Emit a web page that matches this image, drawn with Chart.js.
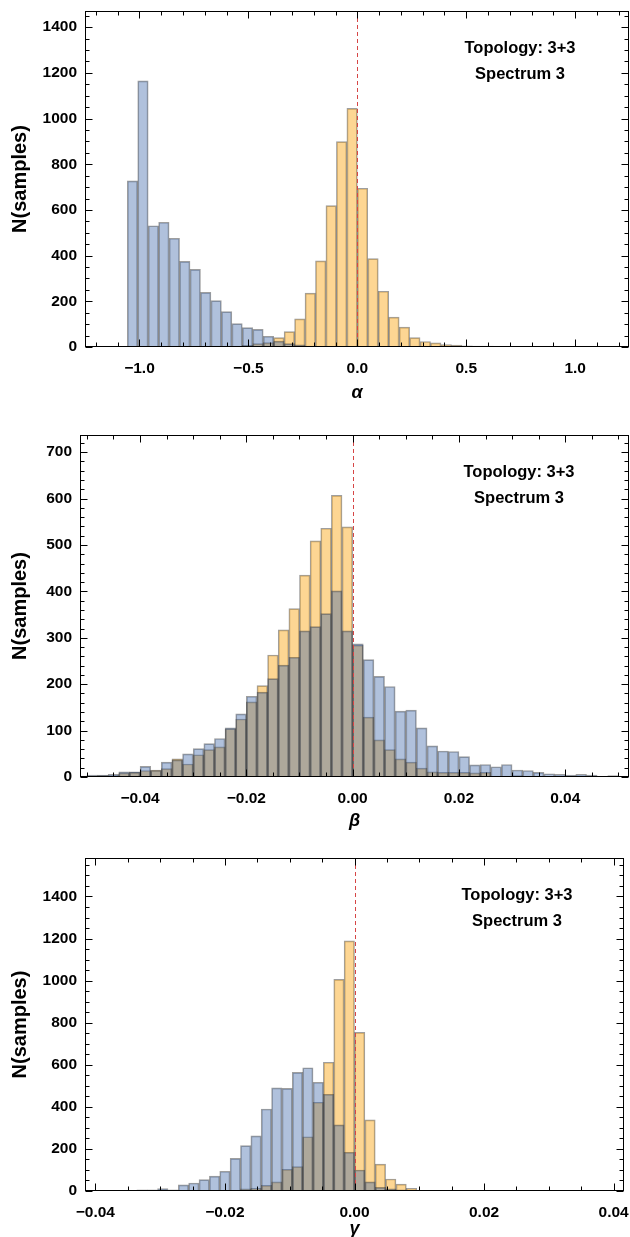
<!DOCTYPE html>
<html><head><meta charset="utf-8">
<script src="https://cdn.jsdelivr.net/npm/chart.js@4.4.1/dist/chart.umd.min.js"></script>
<style>
html,body{margin:0;padding:0;background:#fff;}
body{width:630px;height:1237px;position:relative;overflow:hidden;}
.p{position:absolute;left:0;width:630px;}
</style></head><body>
<div class="p" style="top:0;height:415px"><canvas id="c1"></canvas></div>
<div class="p" style="top:415px;height:420px"><canvas id="c2"></canvas></div>
<div class="p" style="top:835px;height:402px"><canvas id="c3"></canvas></div>
<script>
// ---------- DATA ----------
// alpha histogram (bin width and first bin edge)
const alphaBinStart = -1.104;
const alphaBinWidth = 0.048;
const alphaBlue   = [3,727,1165,531,546,476,375,340,239,203,155,102,85,77,47,26,15,10,4,2,1,0,0, 0,0,0,0,0,0,0,0,0,0,0,0,0,0,0,0];
const alphaOrange = [0,0,0,0,0,0,0,0,0,0,0,3,7,15,19,41,67,123,236,377,619,899,1045, 695,387,244,131,87,41,24,18,11,8,5,4,4,3,0,3];
const alphaXTicks = [-1.0,-0.5,0.0,0.5,1.0];
const alphaXLabels = ["\u22121.0","\u22120.5","0.0","0.5","1.0"];
const alphaYTicks = [0,200,400,600,800,1000,1200,1400];

// beta histogram
const betaBinStart = -0.052;
const betaBinWidth = 0.002;
const betaBlue   = [2,4,4,6,11,11,23,14,32,37,50,61,72,83,106,136,174,183,212,241,258,315,324,352,401,315, 287,253,217,195,142,144,106,67,56,55,44,26,27,22,27,15,14,10,7,6,4,6,4,1,3];
const betaOrange = [0,1,3,3,9,10,14,15,18,39,28,48,59,65,104,125,162,197,263,317,363,435,509,536,607,539, 284,129,80,59,39,32,19,11,10,10,10,9,10,1,1,3,0,0,0,0,0,0,0,0,0];
const betaXTicks = [-0.04,-0.02,0.0,0.02,0.04];
const betaXLabels = ["\u22120.04","\u22120.02","0.00","0.02","0.04"];
const betaYTicks = [0,100,200,300,400,500,600,700];

// gamma histogram
const gammaBinStart = -0.0336;
const gammaBinWidth = 0.0016;
const gammaBlue   = [5,6,11,5,29,38,54,71,94,155,216,262,390,490,488,564,586,517,460,314,184, 100,43,17,10,5,0,0,0];
const gammaOrange = [0,0,0,0,0,0,0,0,0,3,10,13,27,43,103,116,258,422,612,1006,1189, 754,338,128,57,33,13,3,2];
const gammaXTicks = [-0.04,-0.02,0.0,0.02,0.04];
const gammaXLabels = ["\u22120.04","\u22120.02","0.00","0.02","0.04"];
const gammaYTicks = [0,200,400,600,800,1000,1200,1400];

const annotationLines = ["Topology: 3+3","Spectrum 3"];
const yTitle = "N(samples)";

// ---------- STYLE ----------
const FONT = "'Liberation Sans', Arial, Helvetica, sans-serif";
const BLUE = 'rgba(58,100,168,0.4)';
const ORANGE = 'rgba(250,165,15,0.45)';
const EDGE = 'rgba(40,40,40,0.45)';

function toPoints(start, width, vals){
  return vals.map((v,i)=>({x: start + (i+0.5)*width, y: v}));
}

const framePlugin = {
  id: 'frame',
  afterDatasetsDraw(chart){
    const o = chart.options.plugins.frame;
    const {ctx, chartArea:{left,right,top,bottom}, scales:{x,y}} = chart;
    ctx.save();
    // zero line
    const x0 = Math.round(x.getPixelForValue(0)) + 0.5;
    ctx.strokeStyle = 'rgb(214,70,70)';
    ctx.lineWidth = 1;
    ctx.setLineDash([4,3]);
    ctx.beginPath(); ctx.moveTo(x0, top); ctx.lineTo(x0, bottom); ctx.stroke();
    ctx.setLineDash([]);
    // frame
    ctx.strokeStyle = '#000';
    ctx.lineWidth = 1;
    const L = Math.round(left)+0.5, R = Math.round(right)-0.5, T = Math.round(top)+0.5, B = Math.round(bottom)-0.5;
    ctx.strokeRect(L, T, R-L, B-T);
    // ticks
    ctx.beginPath();
    const xmaj = o.xMajor, xmin = o.xMinorStep, ymaj = o.yMajorStep, ymin = o.yMinorStep;
    const eps = 1e-9;
    const xs = Math.ceil(x.min/xmin - eps), xe = Math.floor(x.max/xmin + eps);
    for(let k=xs;k<=xe;k++){
      const v = k*xmin;
      const isMaj = xmaj.some(m=>Math.abs(m-v)<xmin*0.01);
      const len = isMaj ? 7 : 4;
      const px = Math.round(x.getPixelForValue(v))+0.5;
      ctx.moveTo(px, B); ctx.lineTo(px, B-len);
      ctx.moveTo(px, T); ctx.lineTo(px, T+len);
    }
    const ys = 0, ye = Math.floor(y.max/ymin + eps);
    for(let k=ys;k<=ye;k++){
      const v = k*ymin;
      const isMaj = Math.abs(v/ymaj - Math.round(v/ymaj))<1e-6;
      const len = isMaj ? 7 : 4;
      const py = Math.round(y.getPixelForValue(v))+0.5;
      ctx.moveTo(L, py); ctx.lineTo(L+len, py);
      ctx.moveTo(R, py); ctx.lineTo(R-len, py);
    }
    ctx.stroke();
    // annotation
    ctx.fillStyle = '#000';
    ctx.font = "bold 16.5px " + FONT;
    ctx.textAlign = 'center';
    ctx.textBaseline = 'middle';
    ctx.fillText(annotationLines[0], right - o.annDx, top + o.annDy1);
    ctx.fillText(annotationLines[1], right - o.annDx, top + o.annDy2);
    ctx.restore();
  }
};

function makePanel(id, cfg){
  const ctx = document.getElementById(id);
  return new Chart(ctx, {
    type: 'bar',
    data: {
      datasets: [
        {data: toPoints(cfg.start, cfg.width, cfg.blue), backgroundColor: BLUE, borderColor: EDGE, borderWidth: 1, grouped:false, barPercentage:1, categoryPercentage:1, order: 1},
        {data: toPoints(cfg.start, cfg.width, cfg.orange), backgroundColor: ORANGE, borderColor: EDGE, borderWidth: 1, grouped:false, barPercentage:1, categoryPercentage:1, order: 2}
      ]
    },
    options: {
      responsive: true, maintainAspectRatio: false, animation: false,
      layout: {padding: {top: cfg.padTop, right: cfg.padRight, left: 0, bottom: 0}},
      plugins: {
        legend: {display:false}, tooltip:{enabled:false},
        frame: {xMajor: cfg.xTicks, xMinorStep: cfg.xMinor, yMajorStep: cfg.yMajor, yMinorStep: cfg.yMinor, annDx: cfg.annDx, annDy1: 37, annDy2: 63}
      },
      scales: {
        x: {
          type: 'linear', min: cfg.xmin, max: cfg.xmax, offset:false,
          grid: {display:false, drawTicks:false}, border:{display:false},
          afterBuildTicks: (s)=>{ s.ticks = cfg.xTicks.map(v=>({value:v})); },
          afterFit: (s)=>{ s.height = cfg.xAxisH; s.paddingLeft = 0; s.paddingRight = 0; },
          ticks: {autoSkip:false, maxRotation:0, padding: 12, color:'#000', font:{family:FONT, size:15.5, weight:'bold'},
                  callback: (v,i)=>cfg.xLabels[i]},
          title: {display:true, text: cfg.xTitle, color:'#000', font:{family:FONT, size:18, weight:'bold', style:'italic'}, padding:{top:0,bottom:cfg.xTitlePad}}
        },
        y: {
          min: 0, max: cfg.ymax,
          grid: {display:false, drawTicks:false}, border:{display:false},
          afterBuildTicks: (s)=>{ s.ticks = cfg.yTicks.map(v=>({value:v})); },
          afterFit: (s)=>{ s.width = cfg.yAxisW; s.paddingTop = 0; s.paddingBottom = 0; },
          ticks: {autoSkip:false, padding: 8, color:'#000', font:{family:FONT, size:15.5, weight:'bold'},
                  callback: (v)=>String(v)},
          title: {display:true, text: yTitle, color:'#000', font:{family:FONT, size:20, weight:'bold'}, padding:{top:cfg.yTitlePad, bottom:0}}
        }
      }
    },
    plugins: [framePlugin]
  });
}

makePanel('c1', {start: alphaBinStart, width: alphaBinWidth, blue: alphaBlue, orange: alphaOrange,
  xmin: -1.25, xmax: 1.247, ymax: 1471, xTicks: alphaXTicks, xLabels: alphaXLabels, yTicks: alphaYTicks,
  xMinor: 0.1, yMajor: 200, yMinor: 50, padTop: 11, padRight: 1, yAxisW: 85, xAxisH: 68,
  xTitle: '\u03B1', xTitlePad: 11, yTitlePad: 8, annDx: 109});
makePanel('c2', {start: betaBinStart, width: betaBinWidth, blue: betaBlue, orange: betaOrange,
  xmin: -0.0513, xmax: 0.052, ymax: 737, xTicks: betaXTicks, xLabels: betaXLabels, yTicks: betaYTicks,
  xMinor: 0.005, yMajor: 100, yMinor: 20, padTop: 20, padRight: 1, yAxisW: 80, xAxisH: 58,
  xTitle: '\u03B2', xTitlePad: 3, yTitlePad: 8, annDx: 110});
makePanel('c3', {start: gammaBinStart, width: gammaBinWidth, blue: gammaBlue, orange: gammaOrange,
  xmin: -0.0416, xmax: 0.0416, ymax: 1583, xTicks: gammaXTicks, xLabels: gammaXLabels, yTicks: gammaYTicks,
  xMinor: 0.005, yMajor: 200, yMinor: 50, padTop: 23, padRight: 6, yAxisW: 85, xAxisH: 46,
  xTitle: '\u03B3', xTitlePad: -3, yTitlePad: 8, annDx: 107});
</script>
</body></html>
